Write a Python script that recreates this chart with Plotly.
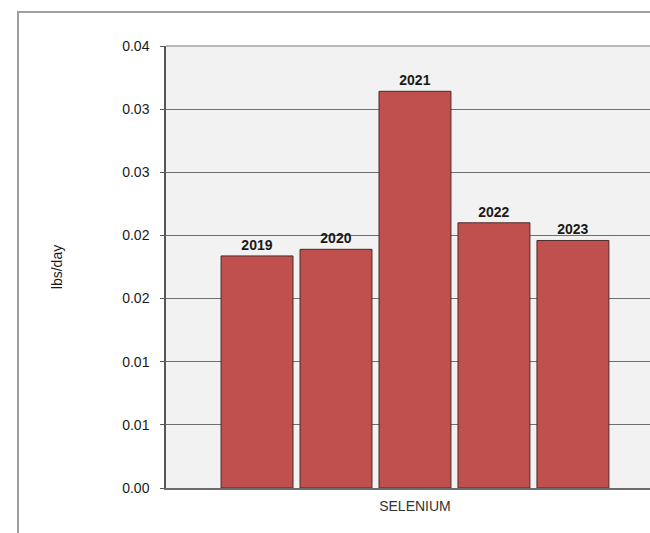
import plotly.graph_objects as go

# Annual selenium loading (lbs/day)
category = ["SELENIUM"]
years = ["2019", "2020", "2021", "2022", "2023"]
values = [0.0210, 0.0216, 0.0359, 0.0240, 0.0224]

# y ticks: eight evenly spaced gridlines from 0 to 0.04, labelled to 2 decimals
y_max = 0.04
tick_vals = [y_max * k / 7 for k in range(8)]
tick_text = [f"{v:.2f}" for v in tick_vals]

bar_color = "#C0504D"
font_family = "Liberation Sans, Arial, sans-serif"

fig = go.Figure()
for yr, val in zip(years, values):
    fig.add_trace(go.Bar(
        x=category,
        y=[val],
        name=yr,
        text=[yr],
        textposition="outside",
        textfont=dict(family=font_family, size=14, color="#1a1a1a", weight="bold"),
        marker=dict(color=bar_color, line=dict(color="#4d2a29", width=1)),
        cliponaxis=False,
        hoverinfo="skip",
    ))

fig.update_layout(
    width=650,
    height=533,
    margin=dict(l=166, r=0, t=46, b=45),
    paper_bgcolor="white",
    plot_bgcolor="#F2F2F2",
    barmode="group",
    bargap=0.207,
    bargroupgap=0.089,
    showlegend=False,
    font=dict(family=font_family, size=14, color="#1a1a1a"),
    xaxis=dict(
        type="category",
        range=[-0.5, 0.472],
        showline=True,
        linecolor="#6b6b6b",
        linewidth=1.5,
        showgrid=False,
        ticks="",
        ticklabelstandoff=4,
        tickfont=dict(size=14, color="#333333"),
    ),
    yaxis=dict(
        range=[0, y_max],
        tickvals=tick_vals,
        ticktext=tick_text,
        showline=True,
        linecolor="#555555",
        linewidth=1.5,
        showgrid=True,
        gridcolor="#6e6e6e",
        gridwidth=1,
        ticks="outside",
        ticklen=4,
        tickcolor="#555555",
        ticklabelstandoff=8,
        tickfont=dict(size=14, color="#1a1a1a"),
        title=dict(text="lbs/day", font=dict(size=14, color="#1a1a1a"), standoff=56),
        zeroline=False,
    ),
    shapes=[
        # outer chart frame (left and top edges visible)
        dict(type="rect", xref="paper", yref="paper",
             x0=-0.3058, x1=1.3, y0=-0.3, y1=1.0769,
             line=dict(color="#a0a0a0", width=2), layer="below"),
        # lighter top edge of the plot area
        dict(type="line", xref="paper", yref="paper",
             x0=0, x1=1, y0=1, y1=1,
             line=dict(color="#a6a6a6", width=1.5), layer="above"),
    ],
)

fig.write_html("out.html")
